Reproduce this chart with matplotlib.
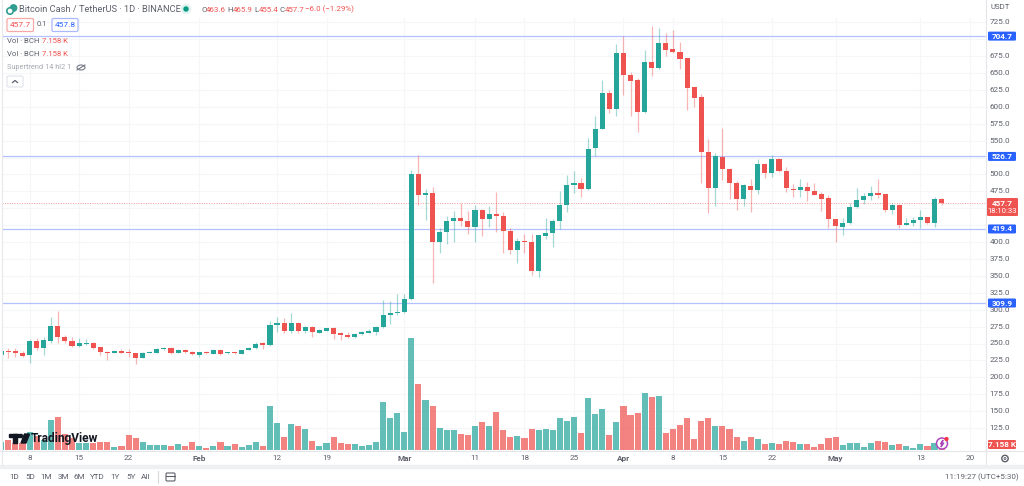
import numpy as np
import pandas as pd
import matplotlib
matplotlib.use("Agg")
import matplotlib.pyplot as plt
from matplotlib.patches import Rectangle, FancyBboxPatch, Circle, Polygon, Ellipse

plt.rcParams['font.family'] = ['Roboto', 'DejaVu Sans']

# daily candles, BCH/USDT, 4 Jan to 16 May
start_date = "2024-01-04"

opens = [233, 237.9, 239.4, 235.9, 232.5, 253.2, 243.8, 254.2, 275.8, 259.1, 254.2, 245.8, 249.7, 251.2, 244.3, 237.9,
         236.4, 238.9, 237.4, 235.4, 228.5, 236.4, 235.9, 241.8, 243.3, 235.9, 240.8, 237.9,
         233.4, 237.4, 234.9, 240.8, 235.4, 236.9, 234.4, 240.4, 243.3, 250.2, 247.2, 277.3, 279.8, 268.9, 280.8, 268.9,
         274.4, 265.5, 268.9, 272.9, 265.5, 262.5, 259.6, 264, 266, 267, 274, 292.2, 295.1,
         297.1, 315.3, 500.2, 469.2, 473.1, 399.6, 414.9, 430.7, 436.1, 431.2, 422.3, 448, 434.2, 441.6, 439.1, 416.4,
         387.8, 402.1, 400.6, 357.7, 409, 413.4, 431.2, 455.4, 484, 486.9, 478, 538.6, 567.7, 620.9, 596.8,
         679.1, 647.6, 639.7, 591.9, 665.8, 656.9, 693.9, 685, 681.6, 671.7, 628.8, 614, 533.7, 479.5, 526.3, 508.5,
         486.8, 463.2, 483.4, 476.5, 515.4, 502.6, 522.8, 505.1, 478.5, 477, 482, 476, 470.6, 464.7,
         433.7, 422.8, 428.7, 451.4, 461.8, 468.2, 472.6, 470.6, 447.5, 454.4, 425.8, 427.8, 432.7, 437.1, 428.2, 463.6]
highs = [240.4, 242.8, 242.8, 239.4, 256.1, 257.6, 260, 289.6, 298.5, 263, 259.1, 257.6, 256.1, 252.7, 244.8, 238.5,
         240.4, 241.3, 241.3, 235.9, 237.4, 238.4, 242.8, 245.3, 245.3, 241.3, 242.3, 238.4,
         237.9, 238.9, 241.3, 242.3, 237.9, 237.9, 240.4, 244.8, 251.7, 252.7, 283.7, 288.7, 287.2, 295.6, 282.3, 275.8,
         275.8, 271.4, 273.4, 273.9, 266.5, 267, 265, 269, 270.9, 275.8, 314.4, 312.9, 323.2,
         323.2, 506.6, 528.8, 478, 481, 420.4, 438.6, 446.5, 458.3, 446.5, 454.9, 449, 453.9, 473.6, 445, 420.4,
         406.5, 412, 411.5, 411, 436.1, 434.6, 475.6, 499.2, 505.6, 494.3, 553.4, 586.4, 639.7, 624.4, 692.4,
         704.8, 652, 643.1, 683.6, 719.5, 716.1, 709.7, 713.6, 695.9, 672.7, 629.3, 619.5, 551.9, 532.2, 568.2, 510,
         490.3, 485.4, 492.8, 522.3, 516.4, 528.8, 523.8, 511, 485.4, 492.8, 489.4, 487.9, 473.6, 469.7,
         434.2, 435.1, 458.3, 480.5, 473.1, 483.5, 493.8, 471.1, 457.3, 455.9, 435.1, 437.6, 447.5, 437.6, 466.2, 465.9]
lows = [232, 228, 229.5, 230.5, 221.6, 240.3, 233, 251.2, 251.2, 250.2, 244.3, 244.3, 247.7, 242.3, 232.9, 225.6,
        235.4, 235.4, 229.5, 219.6, 228, 235.4, 235.4, 240.3, 234.4, 235.4, 236.4, 232.9,
        230.5, 234.4, 234.4, 232.9, 233.9, 234.4, 233.9, 239.9, 242.3, 242.3, 246.8, 266.5, 266, 265, 266, 266,
        259.1, 265, 268.4, 256.1, 255.1, 258.6, 258.1, 263, 265.5, 262, 272.5, 278.9, 292.2,
        295.6, 314.4, 454.9, 432.7, 340, 383.4, 397.2, 400.1, 423.8, 412, 400.6, 409, 422.8, 415.4, 383.4, 381.9,
        369.6, 383.4, 350.8, 347.9, 404.1, 392.3, 418.9, 445, 472.1, 467.2, 477.5, 527.3, 566.7, 590.4, 586.4,
        617.5, 586.4, 562.3, 590.9, 645.1, 655.9, 674.7, 679.6, 655.5, 594.8, 600.2, 487.8, 443, 453.8, 491.3, 463.2,
        447.4, 453.8, 445, 471.6, 494.2, 496.2, 504.1, 474.5, 467.2, 466.2, 461.3, 469.2, 446.5, 420.4,
        399.6, 410.5, 426.8, 449.9, 455.9, 462.3, 465.2, 445, 441.6, 420.4, 424.8, 423.8, 421.3, 426.8, 422.8, 455.4]
closes = [239.4, 236.9, 235.4, 232, 253.7, 243.8, 254.6, 275.8, 259.1, 254.2, 245.8, 250.2, 251.2, 243.8, 236.9, 236.4,
          239.4, 236.4, 235.4, 228, 235.9, 237.4, 241.3, 243.8, 235.9, 240.3, 236.9, 233.9,
          236.9, 235.9, 240.8, 234.4, 236.4, 235.4, 239.9, 243.8, 249.7, 247.2, 277.3, 279.8, 268.9, 280.8, 268.9, 274.4,
          266.5, 269.9, 272.4, 264.5, 262, 259.1, 264.5, 267.5, 268, 274.4, 292.2, 295.6, 297.1,
          315.3, 500.2, 469.7, 473.1, 399.6, 414.9, 431.2, 436.1, 431.2, 422.3, 448, 434.2, 442, 439.1, 415.9, 387.8,
          402.1, 400.6, 357.7, 410, 413.4, 431.2, 455.4, 484, 486.9, 478, 538.2, 567.7, 620.9, 596.8, 679.1,
          646.6, 638.2, 591.9, 665.8, 656.9, 693.9, 684, 680.6, 670.7, 628.3, 613.5, 533.2, 479.5, 527.3, 508, 486.8,
          464.2, 483.9, 476.5, 515.4, 502.1, 522.8, 504.6, 479.5, 477, 482, 476, 469.7, 463.7, 433.7,
          423.8, 428.7, 451.9, 461.8, 468.7, 473.1, 469.7, 447, 454.4, 425.3, 428.7, 432.2, 437.1, 428.2, 463.2, 457.7]
# volume in thousands of BCH
volumes = [22.1, 26.5, 17.7, 17.7, 48.6, 38, 26, 80.4, 87.4, 41.5, 31, 19.4, 19.4, 17.7, 21.2, 22,
           8.8, 10.6, 38.9, 31, 20.3, 13.2, 13.2, 13.2, 11.5, 15, 11.5, 20.3,
           11.5, 6.2, 11.5, 20.3, 11.5, 15.9, 8, 13.2, 20.3, 10.6, 117.4, 72.4, 34.4, 68, 63.6, 54.7,
           23.8, 11.5, 17.7, 34.4, 19.4, 15, 16.8, 11.5, 13.2, 22, 128, 84.8, 98,
           47.7, 297.6, 174, 132.5, 117.4, 57.4, 52, 53, 43.3, 39.7, 63.6, 74.2, 63.6, 101.5, 53, 33.6,
           36.2, 32.7, 56.5, 53, 54.7, 53, 84.8, 77.7, 86.5, 44.2, 138.6, 95.4, 109.5, 38.9, 74.2,
           117.4, 91.8, 97.1, 151.9, 141.3, 142.2, 45.9, 56.5, 66.2, 83.9, 28.3, 75.9, 84.8, 62.7, 63.6, 54.7,
           35.3, 23.8, 34.4, 28.3, 15.9, 17.7, 15.9, 23.8, 20.3, 15, 15, 8.8, 15.9, 32.7,
           34.4, 14.1, 17.7, 19.4, 8.8, 17.7, 23, 21.2, 13.2, 15.9, 11.5, 5.3, 15, 11.5, 17.7, 7.158]

level_prices = [704.7, 526.7, 419.4, 309.9]
level_labels = ["704.7", "526.7", "419.4", "309.9"]
last_price = 457.7
price_ticks = list(np.arange(125, 750, 25))
# these sit behind the badges on the price scale
hidden_price_labels = [700, 525, 450, 425]
x_tick_dates = ["2024-01-08", "2024-01-15", "2024-01-22", "2024-02-01", "2024-02-12", "2024-02-19", "2024-03-01",
                "2024-03-11", "2024-03-18", "2024-03-25", "2024-04-01", "2024-04-08", "2024-04-15", "2024-04-22",
                "2024-05-01", "2024-05-13", "2024-05-20"]
x_tick_labels = ["8", "15", "22", "Feb", "12", "19", "Mar", "11", "18", "25", "Apr", "8", "15", "22", "May", "13", "20"]
range_buttons = ["1D", "5D", "1M", "3M", "6M", "YTD", "1Y", "5Y", "All"]
range_button_x = [14, 30, 46, 63, 79, 97, 115, 131, 146]

GREEN = "#26a69a"
RED = "#ef5350"
BLUE = "#2962ff"
TEXT = "#5d606b"
W, H = 1024, 486

fig = plt.figure(figsize=(W / 100, H / 100), dpi=100, facecolor="white")

# pane in pixel terms: x 2..986, y 18..451
ax = fig.add_axes([2 / W, (H - 451) / H, 984 / W, 433 / H])
ax.set_xlim((2 - 1.3) / 7.07, (986 - 1.3) / 7.07)
ax.set_ylim(309.9 + (303 - 451) * 1.479, 309.9 + (303 - 18) * 1.479)

xs = np.arange(len(opens))
opens_a = np.array(opens)
closes_a = np.array(closes)
colors = [GREEN if c >= o else RED for o, c in zip(opens, closes)]

tick_x = [(pd.Timestamp(d) - pd.Timestamp(start_date)).days for d in x_tick_dates]
ax.set_xticks(tick_x)
ax.set_yticks(price_ticks)
ax.grid(True, color="#f5f6f8", linewidth=0.8)
ax.set_axisbelow(True)
for s in ax.spines.values():
    s.set_visible(False)

# volume pane shares the x axis, 2.65K per pixel
ax_vol = ax.twinx()
ax_vol.set_ylim(-2.65, 432 * 2.65)
ax_vol.bar(xs, volumes, width=0.86, color=colors, alpha=0.72, zorder=2)
ax_vol.axis("off")

# candles go on top of the volume
ax_c = ax.twinx()
ax_c.set_ylim(ax.get_ylim())
ax_c.axis("off")
for p in level_prices:
    ax_c.axhline(p, color="#b4c0ff", linewidth=0.9, zorder=1)
ax_c.axhline(last_price, color="#f59a98", linewidth=0.7, linestyle=(0, (1, 1.5)), zorder=1)
ax_c.vlines(xs, lows, highs, colors=colors, linewidth=0.9, alpha=0.42, zorder=2)
body_h = np.maximum(np.abs(closes_a - opens_a), 1.5)
ax_c.bar(xs, body_h, bottom=np.minimum(opens_a, closes_a), width=0.72, color=colors, zorder=3)

# twinx turns the left ticks back on
ax.tick_params(left=False, bottom=False, right=False, top=False, labelleft=False, labelbottom=False)

# everything round the chart, drawn in pixels
ui = fig.add_axes([0, 0, 1, 1], facecolor="none")
ui.set_xlim(0, W)
ui.set_ylim(H, 0)
ui.axis("off")

# right scale and bottom strips
ui.add_patch(Rectangle((986, 0), 38, H, color="white", zorder=1))
ui.add_patch(Rectangle((0, 451), W, 35, color="white", zorder=1))
ui.plot([986, 986], [0, 466], color="#e4e6ea", lw=0.8, zorder=2)
ui.plot([0, 1024], [451, 451], color="#e4e6ea", lw=0.8, zorder=2)
ui.add_patch(Rectangle((0, 465), W, 2.5, color="#eff0f2", zorder=2))
ui.plot([1.5, 1.5], [0, 465], color="#e6e8ec", lw=0.8, zorder=2)

for t in price_ticks:
    if t in hidden_price_labels:
        continue
    y = 303 + (309.9 - t) * 0.676
    ui.text(1000, y, "%.1f" % t, fontsize=5.9, color=TEXT, ha="center", va="center", zorder=3)
ui.text(1000, 7, "USDT", fontsize=5.6, color=TEXT, ha="center", va="center", zorder=3)

for d, lab in zip(tick_x, x_tick_labels):
    bold = lab in ("Feb", "Mar", "Apr", "May")
    ui.text(1.3 + 7.07 * d, 458, lab, fontsize=5.9, color=TEXT, ha="center", va="center",
            fontweight="bold" if bold else "normal", zorder=3)

for lab, x in zip(range_buttons, range_button_x):
    ui.text(x, 477, lab, fontsize=5.9, color=TEXT, ha="center", va="center", zorder=3)
ui.plot([157.5, 157.5], [471, 483], color="#d8dade", lw=0.8, zorder=3)
ui.add_patch(FancyBboxPatch((166, 473), 9, 8, boxstyle="round,pad=0,rounding_size=1.2", fill=False,
                            ec=TEXT, lw=0.8, zorder=3))
ui.plot([166, 175], [475.5, 475.5], color=TEXT, lw=0.8, zorder=3)
ui.text(1019, 477, "11:19:27 (UTC+5:30)", fontsize=5.8, color=TEXT, ha="right", va="center", zorder=3)
ui.add_patch(Circle((1005, 458.5), 3.2, fill=False, ec=TEXT, lw=1.0, zorder=3))
ui.add_patch(Circle((1005, 458.5), 1.0, fill=False, ec=TEXT, lw=0.6, zorder=3))


def badge(x0, y0, w, h, txt, color):
    ui.add_patch(FancyBboxPatch((x0, y0), w, h, boxstyle="round,pad=0,rounding_size=1.2", fc=color, ec="none", zorder=4))
    ui.text(x0 + w / 2, y0 + h / 2, txt, fontsize=5.9, color="white", fontweight="bold", ha="center", va="center", zorder=5)


for p, lab in zip(level_prices, level_labels):
    y = 303 + (309.9 - p) * 0.676
    badge(988, y - 4.5, 28, 9, lab, BLUE)
ui.add_patch(FancyBboxPatch((987, 198), 31, 18, boxstyle="round,pad=0,rounding_size=1.2", fc=RED, ec="none", zorder=4))
ui.text(1002, 203, "457.7", fontsize=5.9, color="white", fontweight="bold", ha="center", va="center", zorder=5)
ui.text(1002, 211, "18:10:33", fontsize=5.6, color="white", ha="center", va="center", zorder=5)
badge(988, 440, 28, 9, "7.158 K", RED)

# legend block
ui.add_patch(Circle((13.5, 8), 3.2, color="#2f9d8f", zorder=3))
ui.add_patch(Circle((10, 11), 3.2, fc="white", ec="#2f9d8f", lw=1.2, zorder=3))
ui.text(19, 9.5, "Bitcoin Cash / TetherUS · 1D · BINANCE", fontsize=6.7, color="#5d606b", va="center", zorder=3)
ui.add_patch(Circle((186, 9), 4.5, color="#dff3f0", zorder=3))
ui.add_patch(Circle((186, 9), 2, color="#089981", zorder=3))
ohlc = [("O", "463.6", 201), ("H", "465.9", 227.5), ("L", "455.4", 254), ("C", "457.7", 280)]
for a, b, x in ohlc:
    ui.text(x, 9.5, a, fontsize=5.7, color=TEXT, va="center", zorder=3)
    ui.text(x + 5.2, 9.5, b, fontsize=5.7, color=RED, va="center", zorder=3)
ui.text(305, 9.5, "−6.0 (−1.29%)", fontsize=5.7, color=RED, va="center", zorder=3)

ui.add_patch(FancyBboxPatch((7, 18.5), 26.5, 13, boxstyle="round,pad=0,rounding_size=1.5", fc="white", ec="#f7a9a7", lw=0.9, zorder=3))
ui.text(20, 25, "457.7", fontsize=6, color=RED, ha="center", va="center", zorder=4)
ui.text(42, 25, "0.1", fontsize=5.4, color=TEXT, ha="center", va="center", zorder=4)
ui.add_patch(FancyBboxPatch((52, 18.5), 26, 13, boxstyle="round,pad=0,rounding_size=1.5", fc="white", ec="#a9b8ff", lw=0.9, zorder=3))
ui.text(65, 25, "457.8", fontsize=6, color=BLUE, ha="center", va="center", zorder=4)
for y in (41, 54):
    ui.text(7, y, "Vol · BCH", fontsize=5.6, color=TEXT, va="center", zorder=3)
    ui.text(42, y, "7.158 K", fontsize=5.6, color=RED, va="center", zorder=3)
ui.text(7, 67.5, "Supertrend 14 hl2 1", fontsize=5.3, color="#a6a9b2", va="center", zorder=3)
ui.add_patch(Ellipse((81, 67.5), 8, 5, fill=False, ec="#777b86", lw=0.8, zorder=3))
ui.plot([77, 85], [70, 65], color="#777b86", lw=0.8, zorder=3)
ui.add_patch(FancyBboxPatch((7, 76), 16, 11, boxstyle="round,pad=0,rounding_size=1.5", fc="white", ec="#e0e3eb", lw=0.8, zorder=3))
ui.plot([12.5, 15, 17.5], [82.5, 80.5, 82.5], color=TEXT, lw=0.9, zorder=4)

# watermark
ui.add_patch(Rectangle((8.5, 434), 10, 3, color="#131722", zorder=3))
ui.add_patch(Rectangle((13, 434), 4, 9, color="#131722", zorder=3))
ui.add_patch(Circle((21, 436), 1.6, color="#131722", zorder=3))
ui.add_patch(Polygon([[24.5, 434], [29.5, 434], [26, 443], [21, 443]], color="#131722", zorder=3))
ui.text(30.5, 438.5, "TradingView", fontsize=8.6, color="#131722", fontweight="bold", va="center", zorder=3)

# lightning badge
ui.add_patch(Circle((942, 443.5), 5.5, fc="white", ec="#ab47bc", lw=1.1, zorder=3))
ui.add_patch(Polygon([[943, 440], [940.5, 444], [942.2, 444], [941, 447], [943.7, 443], [942, 443]], color="#ab47bc", zorder=4))
ui.add_patch(Circle((946.5, 439), 1.4, color="#f23645", zorder=4))

fig.savefig("out.png", dpi=100)
